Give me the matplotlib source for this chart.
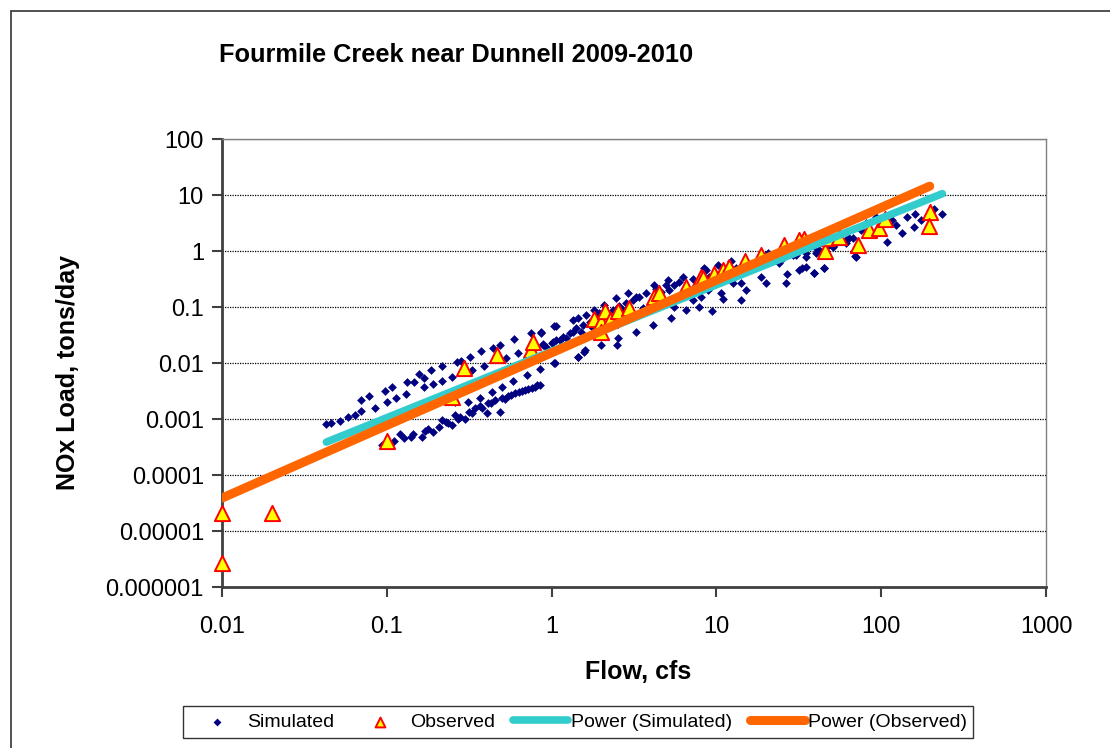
import matplotlib
matplotlib.use("Agg")
import numpy as np
import matplotlib.pyplot as plt
from matplotlib.patches import Rectangle

plt.rcParams['font.family'] = ['Liberation Sans', 'DejaVu Sans']

# simulated daily flow (cfs) and NOx load (tons/day)
sim_flow = [
    # lower band
    0.093, 0.102, 0.110, 0.120, 0.128, 0.145, 0.163, 0.179, 0.192, 0.206,
    0.216, 0.228, 0.248, 0.260, 0.278, 0.298, 0.315, 0.343, 0.368, 0.404,
    0.413, 0.454, 0.486, 0.498, 0.546, 0.600, 0.658, 0.722, 0.793, 0.85,
    0.368, 0.313, 0.14, 0.17, 0.235, 0.27, 0.33, 0.38, 0.43, 0.52,
    0.57, 0.63, 0.69, 0.76, 0.82,
    # upper band
    0.043, 0.046, 0.052, 0.058, 0.064, 0.070, 0.070, 0.078, 0.085, 0.097,
    0.107, 0.100, 0.113, 0.130, 0.132, 0.147, 0.157, 0.169, 0.186, 0.190,
    0.167, 0.216, 0.217, 0.250, 0.266, 0.282, 0.320, 0.327, 0.373, 0.391,
    0.443, 0.486, 0.528, 0.594, 0.622, 0.750, 0.861, 0.889, 1.0, 1.07,
    1.07, 1.05, 0.705, 0.85, 0.586, 0.498, 0.436, 0.26,
    # middle
    0.865, 0.885, 1.04, 1.04, 1.12, 1.23, 1.35, 1.35, 1.44, 1.51,
    1.44, 1.59, 1.62, 1.74, 1.82, 1.95, 2.0, 2.09, 2.25, 2.47,
    2.52, 2.49, 2.70, 2.90, 3.11, 3.23, 3.41, 3.58, 4.11, 4.21,
    4.62, 5.07, 5.19, 5.31, 5.56, 5.56, 6.25, 6.55, 7.18, 7.88,
    8.45, 8.85,
    0.93, 1.02, 1.17, 1.29, 1.41, 1.55, 1.70, 1.87, 2.14, 2.35,
    2.58, 2.83, 3.26, 3.75, 4.31, 4.95, 5.97, 7.18, 1.44, 1.58,
    # upper range
    8.07, 8.65, 9.4, 10.2, 10.7, 10.9, 12.3, 12.6, 14.1, 14.1,
    15.1, 16.2, 18.6, 20.0, 20.5, 23.0, 24.0, 26.4, 27.0, 29.0,
    31.8, 33.3, 34.9, 36.6, 39.3, 40.2, 45.1, 48.3, 53.1, 61,
    67, 69.5,
    7.5, 9.06, 10.9, 13.2, 15.9, 19.1, 21.9, 25.2, 30.3, 34.9,
    42.1, 50.7, 61,
    39.3, 45.2, 34.9, 70, 75, 108, 123, 133, 144, 158,
    161, 174, 209, 235, 40.2, 50.7, 64, 81, 93, 117,
]
sim_load = [
    0.00034, 0.00037, 0.00040, 0.00054, 0.00045, 0.00053, 0.00048, 0.00065, 0.00059, 0.00073,
    0.00096, 0.00090, 0.00078, 0.0012, 0.0011, 0.00099, 0.00135, 0.00155, 0.0017, 0.00126,
    0.00196, 0.0022, 0.00135, 0.0024, 0.0026, 0.0029, 0.0032, 0.0034, 0.0038, 0.0040,
    0.0024, 0.0020, 0.00048, 0.00060, 0.00085, 0.0010, 0.0013, 0.0016, 0.0019, 0.0023,
    0.0027, 0.0030, 0.0033, 0.0036, 0.0041,
    0.0008, 0.00086, 0.00093, 0.0011, 0.0012, 0.0014, 0.0022, 0.0026, 0.0016, 0.0032,
    0.0038, 0.0020, 0.0024, 0.0028, 0.0046, 0.0045, 0.0063, 0.0055, 0.0075, 0.0042,
    0.0037, 0.0088, 0.0048, 0.0057, 0.0106, 0.011, 0.013, 0.0075, 0.0164, 0.0088,
    0.0188, 0.021, 0.0121, 0.0264, 0.0149, 0.034, 0.035, 0.021, 0.0224, 0.046,
    0.026, 0.0099, 0.0061, 0.0077, 0.0048, 0.0038, 0.0030, 0.0020,
    0.036, 0.022, 0.045, 0.0099, 0.026, 0.0275, 0.059, 0.036, 0.063, 0.036,
    0.013, 0.017, 0.072, 0.045, 0.088, 0.077, 0.021, 0.108, 0.055, 0.143,
    0.0275, 0.021, 0.088, 0.175, 0.133, 0.036, 0.153, 0.095, 0.048, 0.247,
    0.188, 0.30, 0.20, 0.063, 0.247, 0.101, 0.348, 0.088, 0.133, 0.101,
    0.49, 0.20,
    0.0195, 0.024, 0.0295, 0.034, 0.042, 0.048, 0.055, 0.065, 0.075, 0.088,
    0.104, 0.119, 0.149, 0.175, 0.206, 0.244, 0.28, 0.32, 0.0128, 0.0157,
    0.153, 0.46, 0.086, 0.56, 0.175, 0.137, 0.65, 0.265, 0.265, 0.133,
    0.20, 0.52, 0.35, 0.27, 0.91, 0.74, 0.60, 0.265, 0.39, 0.85,
    0.46, 0.49, 0.79, 1.37, 0.41, 0.91, 0.49, 1.28, 1.37, 1.57,
    1.68, 0.81,
    0.247, 0.348, 0.43, 0.49, 0.56, 0.65, 0.69, 0.74, 0.85, 0.93,
    1.04, 1.20, 1.41,
    0.40, 0.49, 0.52, 0.79, 2.37, 1.47, 2.91, 2.07, 4.10, 2.72,
    4.58, 3.58, 5.55, 4.58, 1.12, 1.57, 1.68, 3.12, 4.10, 3.58,
]

# observed samples
obs_flow = [0.01, 0.01, 0.02, 0.1, 0.248, 0.293, 0.465, 0.746, 0.775, 1.82,
            2.0, 2.12, 2.25, 2.52, 2.94, 2.0, 4.21, 4.48, 6.55, 8.07,
            8.3, 9.72, 10.9, 12.0, 15.0, 18.6, 25.8, 34.1, 45.8, 47.2,
            55.6, 71.9, 84.5, 96.4, 106, 197, 195, 31.8]
obs_load = [2.1e-5, 2.7e-6, 2.1e-5, 0.0004, 0.0025, 0.0081, 0.0139, 0.017, 0.024, 0.060,
            0.055, 0.086, 0.059, 0.086, 0.095, 0.036, 0.149, 0.175, 0.23, 0.35,
            0.325, 0.39, 0.46, 0.52, 0.67, 0.85, 1.28, 1.62, 1.0, 1.68,
            1.80, 1.28, 2.37, 2.54, 3.67, 5.04, 2.79, 1.57]

# power trendline coefficients (load = a * flow^b)
sim_a, sim_b = 0.0162, 1.187
obs_a, obs_b = 0.0152, 1.297

x_ticks = [0.01, 0.1, 1, 10, 100, 1000]
x_labels = ['0.01', '0.1', '1', '10', '100', '1000']
y_ticks = [1e-6, 1e-5, 1e-4, 1e-3, 1e-2, 1e-1, 1, 10, 100]
y_labels = ['0.000001', '0.00001', '0.0001', '0.001', '0.01', '0.1', '1', '10', '100']

W, H = 1110, 748
fig = plt.figure(figsize=(W / 100, H / 100), dpi=100)
ax = fig.add_axes([222 / W, 1 - 587 / H, (1046 - 222) / W, (587 - 139) / H])

ax.scatter(sim_flow, sim_load, marker='D', s=20, color='#000080', linewidths=0,
           label='Simulated', zorder=3)
ax.scatter(obs_flow, obs_load, marker='^', s=120, facecolor='#FFFF00',
           edgecolor='#FF0000', linewidths=1.4, label='Observed', zorder=4,
           clip_on=False)

xs = np.logspace(np.log10(min(sim_flow)), np.log10(max(sim_flow)), 50)
ax.plot(xs, sim_a * xs ** sim_b, color='#33CCCC', lw=5.5, solid_capstyle='round',
        label='Power (Simulated)', zorder=5)
xo = np.logspace(np.log10(min(obs_flow)), np.log10(max(obs_flow)), 50)
ax.plot(xo, obs_a * xo ** obs_b, color='#FF6600', lw=6.5, solid_capstyle='round',
        label='Power (Observed)', zorder=6)

ax.set_xscale('log')
ax.set_yscale('log')
ax.set_xlim(0.01, 1000)
ax.set_ylim(1e-6, 100)
ax.set_xticks(x_ticks, x_labels)
ax.set_yticks(y_ticks, y_labels)
ax.minorticks_off()
ax.tick_params(axis='both', direction='out', length=7, width=1.5, color='#404040',
               labelsize=17, pad=6)
ax.tick_params(axis='x', pad=14)

for y in y_ticks[1:]:
    ax.axhline(y, color='black', lw=0.9, ls=(0, (1, 1)), zorder=1)

for side in ['left', 'bottom']:
    ax.spines[side].set_color('#404040')
    ax.spines[side].set_linewidth(2)
for side in ['top', 'right']:
    ax.spines[side].set_color('#808080')
    ax.spines[side].set_linewidth(1)

fig.text(219 / W, 1 - 55 / H, 'Fourmile Creek near Dunnell 2009-2010', fontsize=18.3,
         fontweight='bold', ha='left', va='center')
fig.text(638 / W, 1 - 672 / H, 'Flow, cfs', fontsize=18, fontweight='bold',
         ha='center', va='center')
fig.text(68 / W, 1 - 372 / H, 'NOx Load, tons/day', fontsize=18, fontweight='bold',
         ha='center', va='center', rotation=90)

leg = fig.legend(loc='center', bbox_to_anchor=(578 / W, 1 - 722 / H), ncol=4,
                 fontsize=14, frameon=True, fancybox=False, edgecolor='black',
                 handlelength=2.8, handletextpad=0.15, columnspacing=0.95,
                 borderpad=0.35)
leg.get_frame().set_linewidth(1)
leg.legend_handles[0].set_sizes([16])
leg.legend_handles[1].set_sizes([50])

fig.add_artist(Rectangle((11 / W, -0.1), 1.2, 1.1 - 11 / H, transform=fig.transFigure,
                         fill=False, edgecolor='#333333', lw=1.2))

fig.savefig('out.png', dpi=100)
